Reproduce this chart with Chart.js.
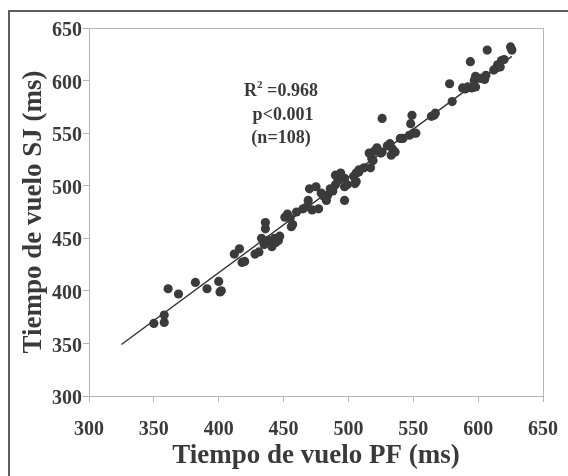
<!DOCTYPE html>
<html>
<head>
<meta charset="utf-8">
<script src="https://cdn.jsdelivr.net/npm/chart.js@4/dist/chart.umd.min.js"></script>
<style>
  html, body { margin: 0; padding: 0; background: #fff; overflow: hidden; }
  #wrap { position: relative; width: 568px; height: 476px; }
  #frame { position: absolute; left: 8px; top: 10px; width: 620px; height: 520px; border: 2px solid #5e5e5e; }
  canvas { position: absolute; left: 0; top: 0; }
</style>
</head>
<body>
<div id="wrap">
  <div id="frame"></div>
  <canvas id="chart" width="568" height="476"></canvas>
</div>
<script>
// tiempo de vuelo PF (ms) vs SJ (ms)
const pfTimes = [
  350, 358, 358, 361, 369, 382, 391, 400, 401, 402,
  412, 416, 418, 420, 428, 431, 433, 435, 436, 436,
  438, 440, 441, 443, 444, 446, 447, 451, 453, 455,
  456, 457, 465, 468, 469, 470, 472, 475, 477, 479,
  481, 483, 484, 486, 488, 490, 490, 492, 494, 497,
  497, 497, 499, 504, 505, 506, 506, 508, 508, 512,
  516, 517, 518, 519, 520, 522, 525, 526, 526, 530,
  532, 533, 534, 536, 540, 542, 547, 548, 549, 550,
  552, 564, 566, 567, 578, 580, 588, 590, 592, 594,
  595, 597, 598, 598, 602, 605, 606, 607, 612, 614,
  615, 617, 618, 620, 625, 626, 444, 460
];
const sjTimes = [
  369, 370, 377, 402, 397, 408, 402, 409, 399, 400,
  435, 440, 427, 428, 435, 437, 450, 444, 459, 465,
  448, 445, 442, 450, 446, 448, 452, 470, 473, 469,
  461, 463, 478, 480, 486, 497, 477, 499, 478, 493,
  490, 486, 491, 497, 495, 501, 510, 505, 512, 507,
  499, 486, 501, 509, 502, 504, 512, 513, 515, 517,
  531, 517, 526, 524, 533, 536, 531, 532, 564, 538,
  540, 529, 535, 532, 545, 545, 548, 559, 567, 550,
  550, 566, 567, 569, 597, 580, 593, 592, 594, 618,
  593, 600, 604, 594, 602, 601, 605, 629, 610, 612,
  615, 613, 619, 620, 632, 629, 449, 475
];
// regression line end points
const fitX = [325, 626];
const fitY = [349, 623];
const statLines = ['=0.968', 'p<0.001', '(n=108)'];

const SERIF = '"Liberation Serif", "Times New Roman", serif';
const TEXT = '#3a3a3a';
const AXIS = '#b4b4b4';

const points = pfTimes.map((x, i) => ({ x, y: sjTimes[i] }));
const fit = fitX.map((x, i) => ({ x, y: fitY[i] }));

const plotBox = {
  id: 'plotBox',
  afterDatasetsDraw(chart) {
    const { ctx, chartArea: a } = chart;
    ctx.save();
    ctx.strokeStyle = AXIS;
    ctx.lineWidth = 1;
    ctx.strokeRect(a.left + 0.5, a.top + 0.5, a.right - a.left, a.bottom - a.top);
    // stats text
    const cx = 281;
    ctx.fillStyle = TEXT;
    ctx.textBaseline = 'alphabetic';
    ctx.font = 'bold 18px ' + SERIF;
    const rW = ctx.measureText('R').width;
    ctx.font = 'bold 11px ' + SERIF;
    const sW = ctx.measureText('2').width;
    ctx.font = 'bold 18px ' + SERIF;
    const restW = ctx.measureText(' ' + statLines[0]).width;
    let x0 = cx - (rW + sW + restW) / 2;
    ctx.textAlign = 'left';
    ctx.fillText('R', x0, 96);
    ctx.font = 'bold 11px ' + SERIF;
    ctx.fillText('2', x0 + rW, 88);
    ctx.font = 'bold 18px ' + SERIF;
    ctx.fillText(' ' + statLines[0], x0 + rW + sW, 96);
    ctx.textAlign = 'center';
    ctx.fillText(statLines[1], cx + 2, 120);
    ctx.fillText(statLines[2], cx, 143);
    ctx.restore();
  }
};

new Chart(document.getElementById('chart'), {
  type: 'scatter',
  data: {
    datasets: [
      {
        label: 'SJ vs PF',
        data: points,
        backgroundColor: '#3b3b3b',
        borderColor: '#3b3b3b',
        borderWidth: 0,
        pointRadius: 4.6,
        order: 1,
      },
      {
        type: 'line',
        label: 'ajuste',
        data: fit,
        borderColor: '#333',
        borderWidth: 1.5,
        pointRadius: 0,
        fill: false,
        order: 2,
      },
    ],
  },
  options: {
    responsive: false,
    animation: false,
    layout: { padding: { top: 28, right: 25, left: 0, bottom: 0 } },
    plugins: { legend: { display: false }, tooltip: { enabled: false } },
    scales: {
      x: {
        type: 'linear',
        min: 300,
        max: 650,
        afterFit: (axis) => { axis.height = 80; axis.paddingLeft = 0; axis.paddingRight = 0; },
        ticks: { stepSize: 50, color: TEXT, padding: 16, font: { family: SERIF, size: 20, weight: 'bold' } },
        grid: { drawOnChartArea: false, tickLength: 6, color: AXIS },
        border: { color: AXIS },
        title: {
          display: true,
          text: 'Tiempo de vuelo PF (ms)',
          color: TEXT,
          padding: { top: 0, bottom: 4 },
          font: { family: SERIF, size: 27, weight: 'bold' },
        },
      },
      y: {
        type: 'linear',
        min: 300,
        max: 650,
        afterFit: (axis) => { axis.width = 89; axis.paddingTop = 0; axis.paddingBottom = 0; },
        ticks: { stepSize: 50, color: TEXT, padding: 1, labelOffset: 3, font: { family: SERIF, size: 20, weight: 'bold' } },
        grid: { drawOnChartArea: false, tickLength: 6, color: AXIS },
        border: { color: AXIS },
        title: {
          display: true,
          text: 'Tiempo de vuelo SJ (ms)',
          color: TEXT,
          padding: { top: 18, bottom: 0 },
          font: { family: SERIF, size: 27, weight: 'bold' },
        },
      },
    },
  },
  plugins: [plotBox],
});
</script>
</body>
</html>
